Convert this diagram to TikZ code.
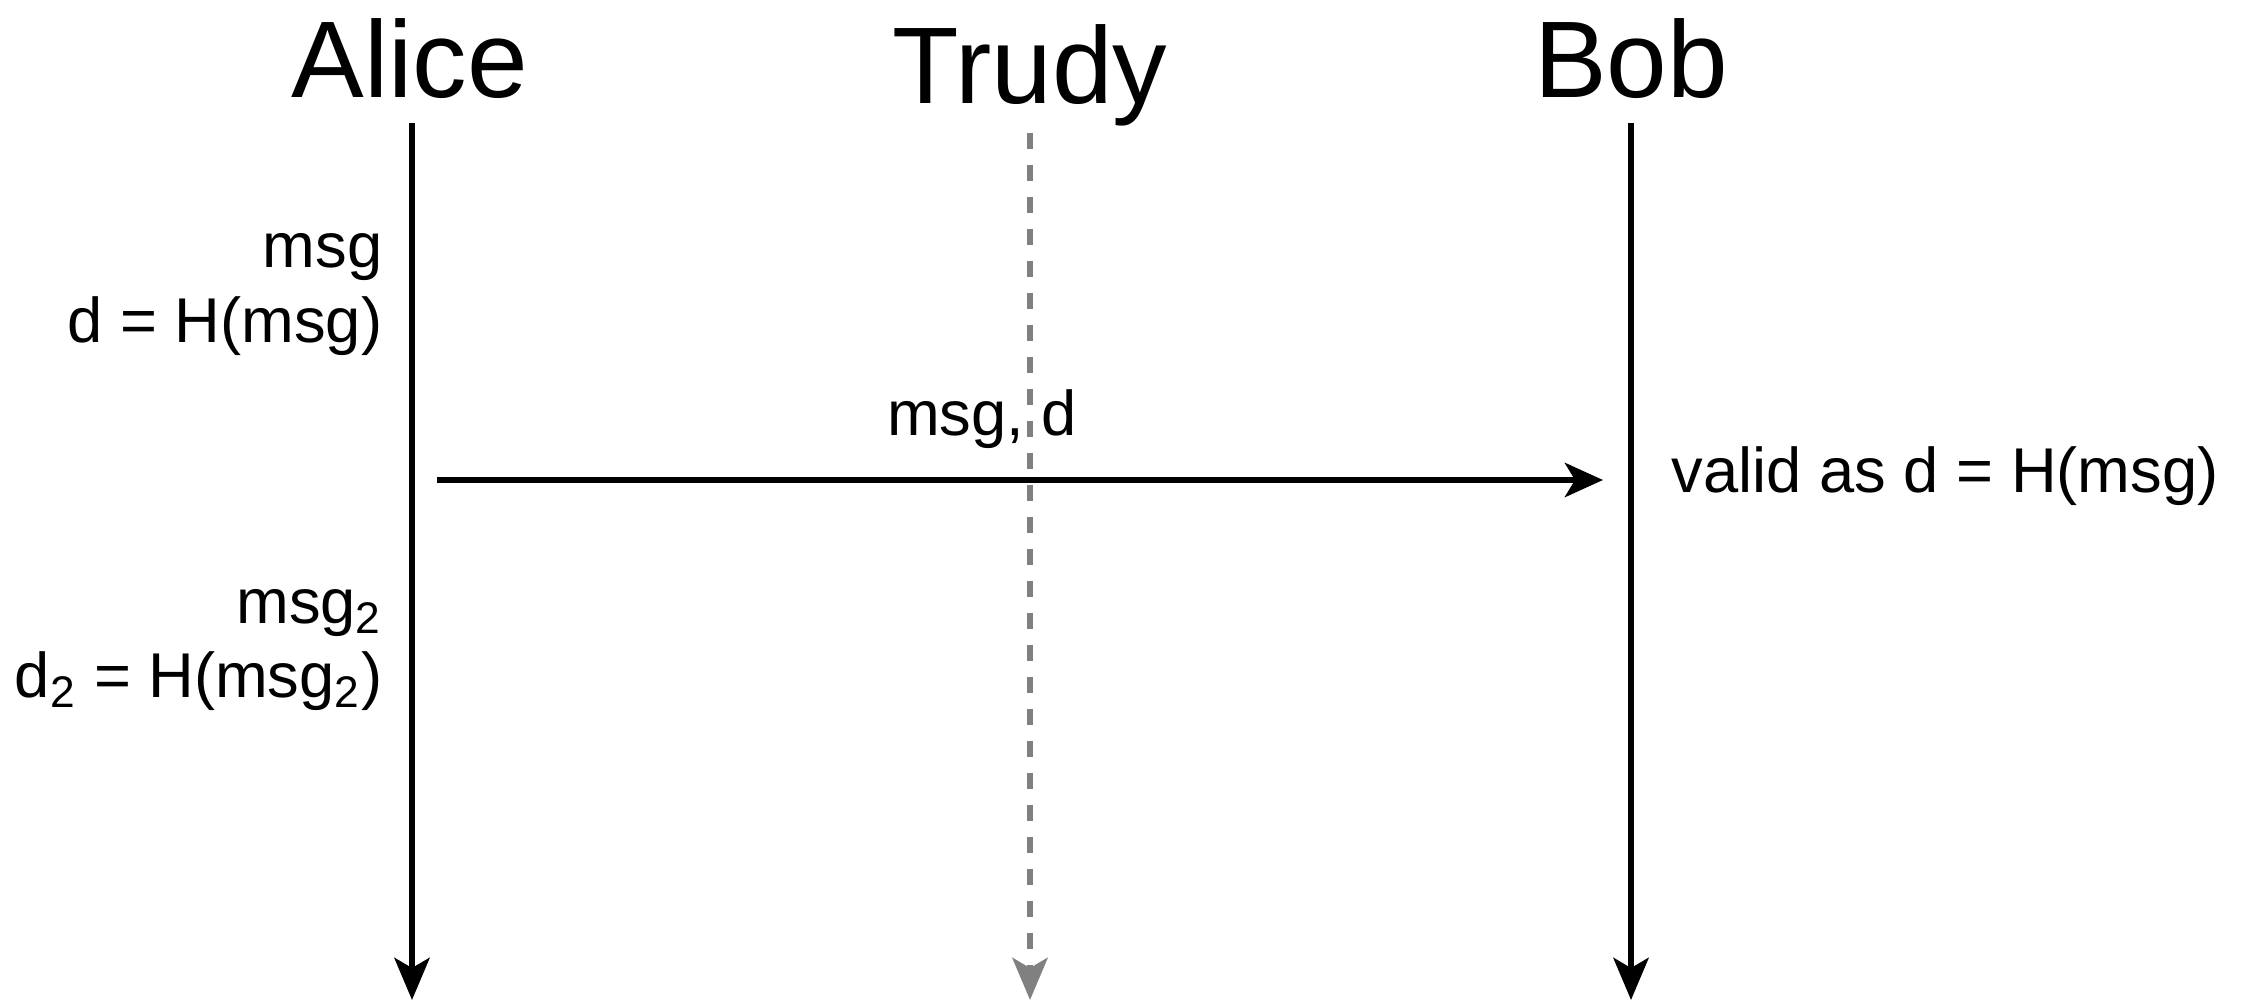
\documentclass[tikz,border=0pt]{standalone}
\usepackage{fontspec}
\setmainfont{Liberation Sans}
\usetikzlibrary{arrows.meta}

\begin{document}
\begin{tikzpicture}[
    actor/.style={font=\fontsize{31}{37}\selectfont, anchor=base, inner sep=0pt},
    note/.style={font=\fontsize{18}{22}\selectfont, inner sep=0pt},
    life/.style={line width=1.9pt, -{Stealth[length=0.42cm,width=0.35cm,inset=0.1cm]}},
    spy/.style={life, gray, dash pattern=on 0.16cm off 0.16cm},
    send/.style={line width=1.9pt, -{Stealth[length=0.38cm,width=0.34cm,inset=0.1cm]}}
  ]
  \useasboundingbox (0,0) rectangle (22.61,10.01);

  % parties
  \node[actor] (alice) at (4.10,9.03) {Alice};
  \node[actor] (trudy) at (10.30,8.97) {Trudy};
  \node[actor] (bob)   at (16.31,9.03) {Bob};

  % lifelines
  \coordinate (aliceTop) at (4.12,8.78);
  \coordinate (aliceEnd) at (4.12,0.01);
  \coordinate (trudyTop) at (10.30,8.68);
  \coordinate (trudyEnd) at (10.30,0.01);
  \coordinate (bobTop)   at (16.31,8.78);
  \coordinate (bobEnd)   at (16.31,0.01);
  \draw[life] (aliceTop) -- (aliceEnd);
  \draw[spy]  (trudyTop) -- (trudyEnd);
  \draw[life] (bobTop) -- (bobEnd);

  % what Alice computes
  \node[note, anchor=base east] (msgA)  at (3.83,7.34) {msg};
  \node[note, anchor=base east] (hashA) at (3.83,6.59) {d = H(msg)};
  \node[note, anchor=base east] (msgB)  at (3.83,3.78) {msg\textsubscript{2}};
  \node[note, anchor=base east] (hashB) at (3.83,3.04) {d\textsubscript{2} = H(msg\textsubscript{2})};

  % the message sent to Bob
  \coordinate (out) at (4.37,5.21);
  \coordinate (in)  at (16.03,5.21);
  \draw[send] (out) -- (in);
  \node[note, anchor=base] (pair) at (9.82,5.66) {msg, d};
  \node[note, anchor=base west] (check) at (16.71,5.09) {valid as d = H(msg)};
\end{tikzpicture}
\end{document}
